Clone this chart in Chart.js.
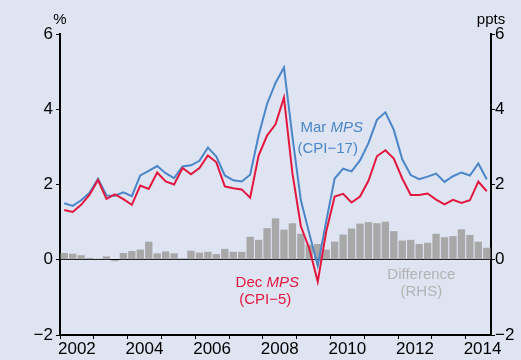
<!DOCTYPE html>
<html lang="en">
<head>
    <meta charset="UTF-8">
    <title>Inflation forecasts</title>
    <style>
        * {
            margin: 0;
            padding: 0;
            box-sizing: border-box;
        }

        body {
            background: #dfe4f3;
        }

        .chart-container {
            width: 521px;
            height: 360px;
            background-color: #dfe4f3;
        }
    </style>
</head>
<body>
    <div class="chart-container">
        <canvas id="forecastChart"></canvas>
    </div>

    <script src="https://cdn.jsdelivr.net/npm/chart.js"></script>
    <script>
        // Quarterly series, 2002 Q1 to 2014 Q3
        const startYear = 2002;
        const quarterCount = 51;
        const quarters = [];
        for (let i = 0; i < quarterCount; i++) {
            quarters.push(startYear + (i + 0.5) / 4);
        }

        const marMps = [
            1.50, 1.43, 1.58, 1.78, 2.15, 1.71, 1.70, 1.79, 1.69, 2.24,
            2.36, 2.49, 2.30, 2.17, 2.48, 2.51, 2.63, 2.98, 2.74, 2.24,
            2.11, 2.08, 2.26, 3.30, 4.14, 4.70, 5.11, 3.27, 1.58, 0.70,
            -0.16, 1.02, 2.16, 2.42, 2.35, 2.64, 3.10, 3.72, 3.92, 3.45,
            2.67, 2.25, 2.14, 2.21, 2.29, 2.07, 2.22, 2.32, 2.24, 2.56,
            2.14
        ];

        const decMps = [
            1.32, 1.27, 1.46, 1.73, 2.12, 1.62, 1.74, 1.61, 1.46, 1.97,
            1.88, 2.32, 2.08, 2.00, 2.44, 2.27, 2.44, 2.77, 2.59, 1.95,
            1.90, 1.87, 1.65, 2.77, 3.30, 3.60, 4.31, 2.30, 0.89, 0.30,
            -0.58, 0.75, 1.68, 1.75, 1.52, 1.68, 2.10, 2.75, 2.91, 2.69,
            2.16, 1.72, 1.72, 1.76, 1.60, 1.47, 1.59, 1.51, 1.58, 2.08,
            1.82
        ];

        const difference = [
            0.18, 0.16, 0.12, 0.05, 0.03, 0.09, -0.04, 0.18, 0.23, 0.27,
            0.48, 0.17, 0.22, 0.17, 0.04, 0.24, 0.19, 0.21, 0.15, 0.29,
            0.21, 0.21, 0.61, 0.53, 0.84, 1.10, 0.80, 0.97, 0.69, 0.40,
            0.42, 0.27, 0.48, 0.67, 0.83, 0.96, 1.00, 0.97, 1.01, 0.76,
            0.51, 0.53, 0.42, 0.45, 0.69, 0.60, 0.63, 0.81, 0.66, 0.48,
            0.32
        ];

        const yearLabels = [2002, 2004, 2006, 2008, 2010, 2012, 2014];
        const yTicks = [-2, 0, 2, 4, 6];

        const FONT = '"Liberation Sans", Arial, sans-serif';
        const BLUE = '#4a86c8';
        const RED = '#e3173e';
        const GREY_TEXT = '#b3b3b3';
        const BAR = '#a8a8a8';

        const toPoints = (values) => values.map((v, i) => ({ x: quarters[i], y: v }));

        const fmtTick = (v) => String(v).replace('-', '\u2212');

        // text labels sitting inside the plot, plus the unit titles above each axis
        const labelsPlugin = {
            id: 'labels',
            afterDraw(chart) {
                const { ctx, chartArea } = chart;
                const xs = chart.scales.x;
                const ys = chart.scales.y;
                ctx.save();
                ctx.textBaseline = 'middle';
                ctx.textAlign = 'center';

                ctx.fillStyle = '#000';
                ctx.font = '15px ' + FONT;
                ctx.fillText('%', chartArea.left, 20);
                ctx.fillText('ppts', chartArea.right, 20);

                const mixed = (plain, italic, year, val, color) => {
                    ctx.font = '15px ' + FONT;
                    const w1 = ctx.measureText(plain).width;
                    ctx.font = 'italic 15px ' + FONT;
                    const w2 = ctx.measureText(italic).width;
                    const cx = xs.getPixelForValue(year);
                    const cy = ys.getPixelForValue(val);
                    const left = cx - (w1 + w2) / 2;
                    ctx.fillStyle = color;
                    ctx.textAlign = 'left';
                    ctx.font = '15px ' + FONT;
                    ctx.fillText(plain, left, cy);
                    ctx.font = 'italic 15px ' + FONT;
                    ctx.fillText(italic, left + w1, cy);
                    ctx.textAlign = 'center';
                };

                const plain = (text, year, val, color) => {
                    ctx.font = '15px ' + FONT;
                    ctx.fillStyle = color;
                    ctx.fillText(text, xs.getPixelForValue(year), ys.getPixelForValue(val));
                };

                mixed('Mar ', 'MPS', 2010.04, 3.5, BLUE);
                plain('(CPI\u221217)', 2009.92, 2.94, BLUE);
                mixed('Dec ', 'MPS', 2008.13, -0.62, RED);
                plain('(CPI\u22125)', 2008.07, -1.07, RED);
                plain('Difference', 2012.69, -0.40, GREY_TEXT);
                plain('(RHS)', 2012.69, -0.86, GREY_TEXT);

                ctx.restore();
            }
        };

        const ctx = document.getElementById('forecastChart').getContext('2d');
        const forecastChart = new Chart(ctx, {
            type: 'line',
            data: {
                datasets: [
                    {
                        type: 'bar',
                        label: 'Difference',
                        data: toPoints(difference),
                        yAxisID: 'y1',
                        backgroundColor: BAR,
                        borderWidth: 0,
                        categoryPercentage: 1,
                        barPercentage: 0.87,
                        order: 3
                    },
                    {
                        label: 'Mar MPS',
                        data: toPoints(marMps),
                        borderColor: BLUE,
                        borderWidth: 2,
                        pointRadius: 0,
                        tension: 0,
                        order: 2
                    },
                    {
                        label: 'Dec MPS',
                        data: toPoints(decMps),
                        borderColor: RED,
                        borderWidth: 2,
                        pointRadius: 0,
                        tension: 0,
                        order: 1
                    }
                ]
            },
            options: {
                responsive: true,
                maintainAspectRatio: false,
                animation: false,
                layout: {
                    padding: { top: 34, left: 0, right: 0, bottom: 0 }
                },
                scales: {
                    x: {
                        type: 'linear',
                        min: 2002,
                        max: 2014.75,
                        offset: false,
                        afterBuildTicks(scale) {
                            const ticks = [];
                            for (let yr = 2002; yr <= 2014; yr++) ticks.push({ value: yr });
                            yearLabels.forEach(yr => ticks.push({ value: yr + 0.5 }));
                            scale.ticks = ticks;
                        },
                        afterFit(scale) { scale.height = 25; },
                        ticks: {
                            autoSkip: false,
                            maxRotation: 0,
                            padding: 0,
                            color: '#000',
                            font: { family: FONT, size: 17 },
                            callback: (v) => (v % 1 === 0.5 ? String(Math.floor(v)) : '')
                        },
                        grid: {
                            offset: false,
                            drawOnChartArea: false,
                            tickLength: 4,
                            tickWidth: 1,
                            tickColor: (c) => (c.tick && Number.isInteger(c.tick.value) ? '#000' : 'rgba(0,0,0,0)')
                        },
                        border: { display: true, color: '#000', width: 2 }
                    },
                    y: {
                        position: 'left',
                        min: -2,
                        max: 6,
                        afterBuildTicks(scale) { scale.ticks = yTicks.map(v => ({ value: v })); },
                        afterFit(scale) { scale.width = 60; },
                        ticks: {
                            padding: 3,
                            color: '#000',
                            font: { family: FONT, size: 17 },
                            callback: fmtTick
                        },
                        grid: {
                            color: (c) => (c.tick && c.tick.value === 0 ? '#000' : 'rgba(0,0,0,0)'),
                            lineWidth: 1,
                            tickColor: '#000',
                            tickLength: 4
                        },
                        border: { display: true, color: '#000', width: 2 }
                    },
                    y1: {
                        position: 'right',
                        min: -2,
                        max: 6,
                        afterBuildTicks(scale) { scale.ticks = yTicks.map(v => ({ value: v })); },
                        afterFit(scale) { scale.width = 30; },
                        ticks: {
                            padding: 0,
                            color: '#000',
                            font: { family: FONT, size: 17 },
                            callback: fmtTick
                        },
                        grid: {
                            drawOnChartArea: false,
                            tickColor: '#000',
                            tickLength: 4
                        },
                        border: { display: true, color: '#000', width: 2 }
                    }
                },
                plugins: {
                    legend: { display: false },
                    tooltip: { enabled: false }
                }
            },
            plugins: [labelsPlugin]
        });
    </script>
</body>
</html>
